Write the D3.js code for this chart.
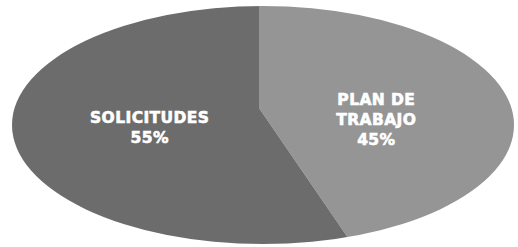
<!DOCTYPE html>
<html lang="es">
<head>
<meta charset="UTF-8">
<title>Solicitudes / Plan de trabajo</title>
<script src="https://d3js.org/d3.v7.min.js"></script>
<style>
  body { margin: 0; background: #fff; }
  .label { fill: #fff; stroke: #fff; stroke-width: 0.6px; font-family: "DejaVu Sans", sans-serif; font-weight: bold; font-size: 15.5px; letter-spacing: 0.4px; text-anchor: middle; }
</style>
</head>
<body>
<script>
// data
var categories = ["PLAN DE TRABAJO", "SOLICITUDES"];
var labelLines = [["PLAN DE", "TRABAJO"], ["SOLICITUDES"]];
var values = [45, 55];
var colors = ["#959595", "#6c6c6c"];

var width = 518, height = 247;

// ellipse outline and the (slightly raised) pie apex, like a tilted 3D pie
var ell = {cx: 263, cy: 125, rx: 251, ry: 119};
var apex = {x: 259, y: 108};

var svg = d3.select("body").append("svg")
    .attr("width", width)
    .attr("height", height);

svg.append("clipPath").attr("id", "ell")
  .append("ellipse")
    .attr("cx", ell.cx).attr("cy", ell.cy)
    .attr("rx", ell.rx).attr("ry", ell.ry);

var pie = d3.pie().sort(null).value(function(d) { return d; });
var arcs = pie(values);

// wedge drawn in unit space, scaled to ellipse, then clipped by the ellipse
var wedge = d3.arc().innerRadius(0).outerRadius(3);

var g = svg.append("g").attr("clip-path", "url(#ell)");

g.selectAll("path")
  .data(arcs)
  .enter().append("path")
    .attr("transform", "translate(" + apex.x + "," + apex.y + ") scale(" + ell.rx + "," + ell.ry + ")")
    .attr("d", wedge)
    .attr("fill", function(d, i) { return colors[i]; });

// labels, top-aligned at the slice centroid
var labelArc = d3.arc().innerRadius(0).outerRadius(0.914);
var lh = 20;

var labels = svg.selectAll("text.label")
  .data(arcs)
  .enter().append("text")
    .attr("class", "label")
    .attr("transform", function(d) {
      var c = labelArc.centroid(d);
      return "translate(" + (ell.cx + c[0] * ell.rx) + "," + (ell.cy + c[1] * ell.ry) + ")";
    });

labels.each(function(d, i) {
  var lines = labelLines[i].concat([d.data + "%"]);
  var t = d3.select(this);
  lines.forEach(function(s, j) {
    t.append("tspan").attr("x", 0).attr("y", -11 + j * lh).text(s);
  });
});
</script>
</body>
</html>
